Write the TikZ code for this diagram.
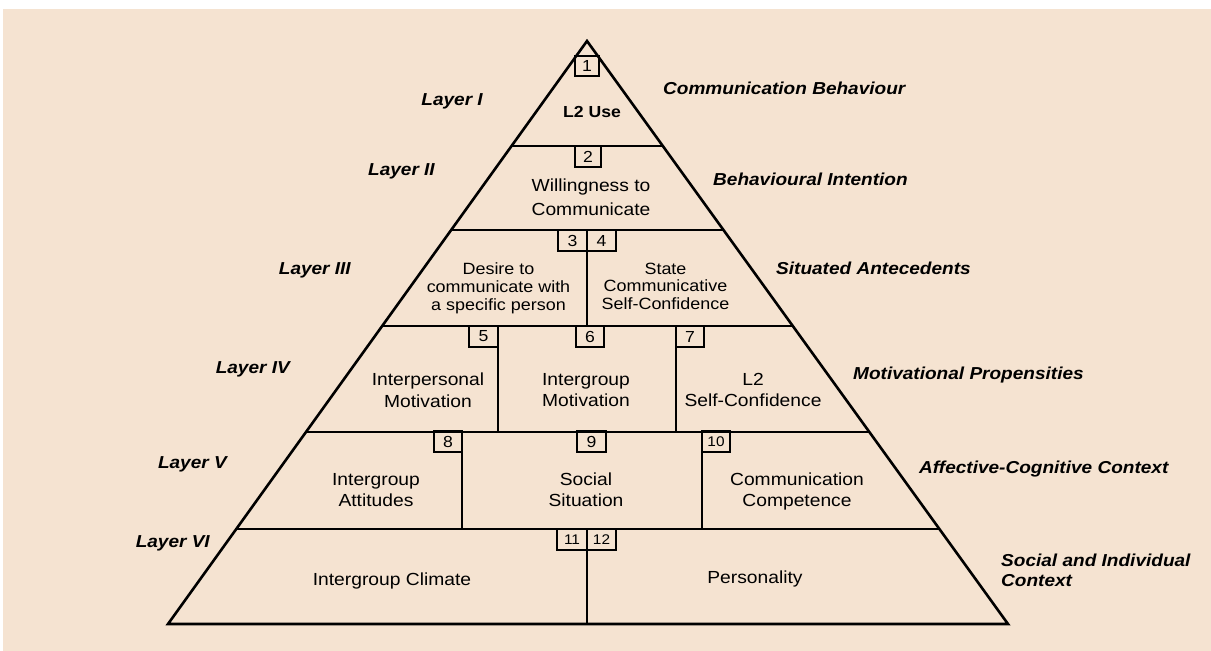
\documentclass[tikz,border=0pt]{standalone}
\usepackage{fontspec}
\setmainfont[FakeStretch=1.1]{Liberation Sans}
\usetikzlibrary{calc}
\definecolor{paper}{RGB}{245,227,209}
\begin{document}
\begin{tikzpicture}[x=1pt,y=-1pt,
  frame/.style={line width=2.6pt, draw=black},
  numbox/.style={draw=black, line width=2.3pt, inner sep=0pt, minimum height=21pt,
    font=\fontsize{16}{16}\selectfont},
  numboxw/.style={numbox, font=\fontsize{14}{14}\selectfont},
  cell/.style={inner sep=0pt, anchor=north, align=center,
    font=\fontsize{17.5}{21.5}\selectfont},
  smallcell/.style={cell, font=\fontsize{16.3}{17.8}\selectfont},
  layer/.style={inner sep=0pt, anchor=base east,
    font=\fontsize{17.3}{20}\selectfont\bfseries\itshape},
  level/.style={inner sep=0pt, anchor=base west, align=left,
    font=\fontsize{17.3}{20}\selectfont\bfseries\itshape}]
\useasboundingbox (0,0) rectangle (1211,651);
\fill[white] (0,0) rectangle (1211,651);
\fill[paper] (3,9) rectangle (1211,651);

% pyramid outline
\coordinate (apex) at (587,41);
\coordinate (bl) at (168,624);
\coordinate (br) at (1008,624);
\foreach \n/\t in {1/0.1801, 2/0.3242, 3/0.4889, 4/0.6707, 5/0.8370} {
  \coordinate (l\n) at ($(apex)!\t!(bl)$);
  \coordinate (r\n) at ($(apex)!\t!(br)$);
}
\draw[frame] (apex) -- (bl) -- (br) -- cycle;
\foreach \n in {1,...,5} \draw[frame] (l\n) -- (r\n);

% vertical dividers inside the layers
\coordinate (d3t) at (587,230);  \coordinate (d3b) at (587,326);
\coordinate (d4at) at (498,326); \coordinate (d4ab) at (498,432);
\coordinate (d4bt) at (676,326); \coordinate (d4bb) at (676,432);
\coordinate (d5at) at (462,432); \coordinate (d5ab) at (462,529);
\coordinate (d5bt) at (702,432); \coordinate (d5bb) at (702,529);
\coordinate (d6t) at (587,529);  \coordinate (d6b) at (587,624);
\draw[frame] (d3t) -- (d3b);
\draw[frame] (d4at) -- (d4ab);
\draw[frame] (d4bt) -- (d4bb);
\draw[frame] (d5at) -- (d5ab);
\draw[frame] (d5bt) -- (d5bb);
\draw[frame] (d6t) -- (d6b);

% numbered tags
\node[numbox, minimum width=24pt, minimum height=20pt] (b1) at (587,66) {1};
\node[numbox, minimum width=26pt] (b2) at (588,156.5) {2};
\node[numbox, minimum width=29pt] (b3) at (572.5,240.5) {3};
\node[numbox, minimum width=29pt] (b4) at (601.5,240.5) {4};
\node[numbox, minimum width=29pt] (b5) at (483.5,336.5) {5};
\node[numbox, minimum width=28pt] (b6) at (590,336.5) {6};
\node[numbox, minimum width=28pt] (b7) at (690,336.5) {7};
\node[numbox, minimum width=28pt] (b8) at (448,441.5) {8};
\node[numbox, minimum width=29pt] (b9) at (591.5,441.5) {9};
\node[numboxw, minimum width=28pt] (b10) at (716,441.5) {10};
\node[numboxw, minimum width=30pt] (b11) at (572,539.5) {11};
\node[numboxw, minimum width=29pt] (b12) at (601.5,539.5) {12};

% cell contents
\node[cell, font=\fontsize{16}{19}\selectfont\bfseries] (use) at (592,106) {L2 Use};
\node[cell, font=\fontsize{17.5}{23.5}\selectfont] (wtc) at (591,179) {Willingness to\\Communicate};
\node[smallcell] (desire) at (498.5,262.5) {Desire to\\communicate with\\a specific person};
\node[smallcell] (state) at (665.5,262.5) {State\\Communicative\\Self-Confidence};
\node[cell] (interp) at (428,373) {Interpersonal\\Motivation};
\node[cell] (intergm) at (586,373) {Intergroup\\Motivation};
\node[cell] (selfconf) at (753,373) {L2\\Self-Confidence};
\node[cell, font=\fontsize{17.5}{21}\selectfont] (att) at (376,473) {Intergroup\\Attitudes};
\node[cell, font=\fontsize{17.5}{21}\selectfont] (sit) at (586,473) {Social\\Situation};
\node[cell, font=\fontsize{17.5}{21}\selectfont] (comp) at (797,473) {Communication\\Competence};
\node[cell] (climate) at (392,572.7) {Intergroup Climate};
\node[cell] (pers) at (755,571) {Personality};

% layer names
\node[layer] (lay1) at (483,105) {Layer I};
\node[layer] (lay2) at (435,175) {Layer II};
\node[layer] (lay3) at (351,274) {Layer III};
\node[layer] (lay4) at (290,373) {Layer IV};
\node[layer] (lay5) at (227,468) {Layer V};
\node[layer] (lay6) at (210,547.3) {Layer VI};

% layer descriptions
\node[level] (lev1) at (663,94.3) {Communication Behaviour};
\node[level] (lev2) at (713,185) {Behavioural Intention};
\node[level] (lev3) at (776,274) {Situated Antecedents};
\node[level] (lev4) at (853,379) {Motivational Propensities};
\node[level] (lev5) at (919,473) {Affective-Cognitive Context};
\node[level, anchor=north west] (lev6) at (1001,553.3) {Social and Individual\\Context};
\end{tikzpicture}
\end{document}
